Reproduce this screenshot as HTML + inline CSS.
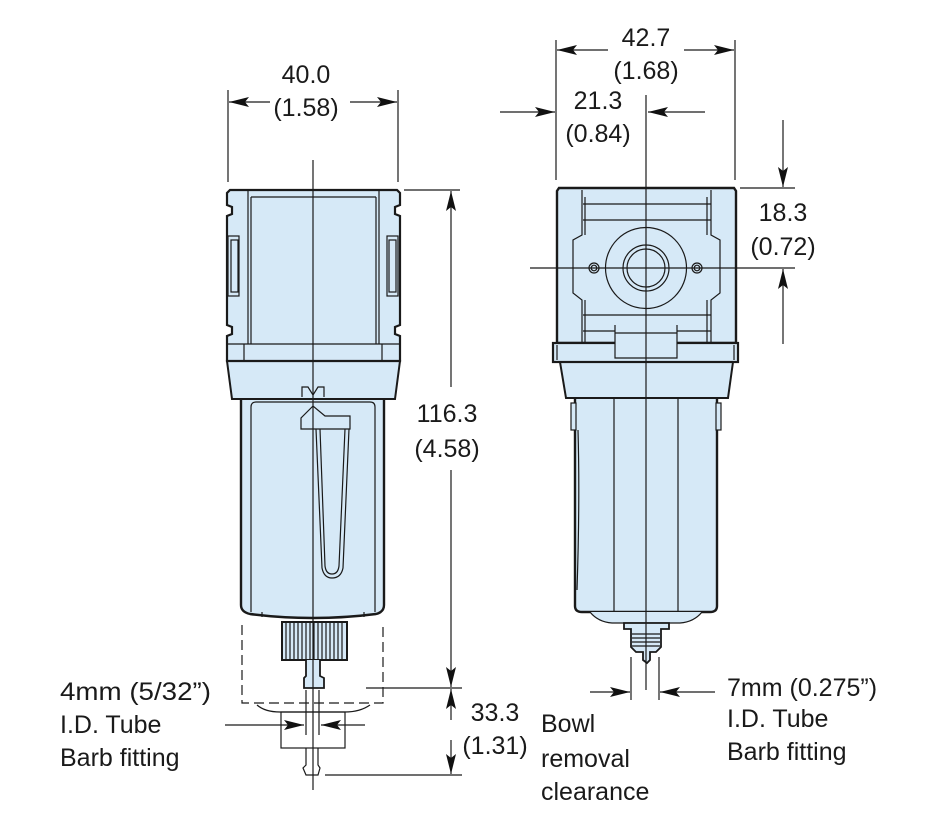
<!DOCTYPE html>
<html><head><meta charset="utf-8"><style>
html,body{margin:0;padding:0;background:#fff;}
svg{display:block}
text{font-family:"Liberation Sans",sans-serif;fill:#1a1a1a;}
</style></head><body>
<svg width="926" height="828" viewBox="0 0 926 828" xmlns="http://www.w3.org/2000/svg">
<defs>
<marker id="ah" viewBox="0 0 20 10" refX="20" refY="5" markerWidth="20" markerHeight="10" markerUnits="userSpaceOnUse" orient="auto"><path d="M0,0 L20,5 L0,10 L4,5 z" fill="#111"/></marker>
</defs>
<g stroke="#1a1a1a" fill="none" stroke-width="1.2">
<!-- ===== LEFT VIEW ===== -->
<!-- bowl -->
<path d="M241,399 L241,605 Q241,612 250,614 Q313,622 376,614 Q384,612 384,605 L384,399" fill="#d6e9f7" stroke-width="2.4"/>
<path d="M251,612 L251,407 Q251,402 256,402 L370,402 Q375,402 375,407 L375,612"/>
<path d="M262,617 L262,612 M364,617 L364,612"/>
<!-- collar -->
<path d="M227,361 L400,361 L395,399 L232,399 Z" fill="#d6e9f7" stroke-width="2"/>
<!-- head -->
<path d="M230,190 L397,190 L400,193 L400,205 L395,207 L395,214 L400,216 L400,325 L395,327 L395,334 L400,336 L400,361 L227,361 L227,336 L232,334 L232,327 L227,325 L227,216 L232,214 L232,207 L227,205 L227,193 Z" fill="#d6e9f7" stroke-width="2.2"/>
<path d="M248,190 L248,344 M251,197 L251,344 M376,197 L376,344 M379,190 L379,344 M251,197 L376,197"/>
<path d="M227,344 L400,344 M244,344 L244,361 M382,344 L382,361"/>
<rect x="228" y="236" width="11" height="60"/><rect x="231" y="240" width="7" height="52"/>
<rect x="387" y="236" width="11" height="60"/><rect x="389" y="240" width="7" height="52"/>
<!-- V mark -->
<path d="M302,397 L302,387 L308,387 L313,395 L318,387 L324,387 L324,397"/>
<!-- sight -->
<path d="M301,429 L301,418 L313,406 L325,416 L350,416 L350,429 Z" fill="#d6e9f7"/>
<path d="M316,429 L322,568 Q324,578 332,578 Q341,578 343,568 L349,429"/>
<path d="M320,429 L325,566 Q326,574 332,574 Q338,574 339,566 L345,429"/>
<!-- knurl -->
<rect x="282" y="622" width="65" height="38" fill="#d6e9f7" stroke-width="2"/>
<path d="M286,622v38M290,622v38M294,622v38M298,622v38M302,622v38M306,622v38M310,622v38M314,622v38M318,622v38M322,622v38M326,622v38M330,622v38M334,622v38M338,622v38M342,622v38"/>
<path d="M306,660 L306,676 L304,678 L304,688 L324,688 L324,678 L320,676 L320,660" fill="#d6e9f7" stroke-width="1.8"/>
<!-- dashed clearance -->
<path d="M242,625 L242,703 L383,703 L383,625" stroke-dasharray="10,5"/>
<path d="M257,705 Q265,712 280,712 L345,712 Q360,712 370,705"/>
<rect x="281" y="712" width="64" height="36"/>
<path d="M306,748 L306,765 L303,768 L306,775 L318,775 L320,768 L318,765 L318,748"/>
<path d="M306,690 V735 M319,690 V735"/>
<line x1="313" y1="160" x2="313" y2="790"/>
<!-- ===== RIGHT VIEW ===== -->
<!-- bowl -->
<path d="M575,399 L575,606 Q575,612 582,612 L710,612 Q717,612 717,606 L717,399" fill="#d6e9f7" stroke-width="2.4"/>
<path d="M614,399 V612 M678,399 V612"/>
<path d="M590,612 Q598,622 612,623 L680,623 Q694,622 702,612" fill="#d6e9f7"/>
<path d="M578,430 Q580,500 577,590"/>
<rect x="571" y="403" width="5" height="27" fill="#d6e9f7"/><rect x="716" y="403" width="5" height="27" fill="#d6e9f7"/>
<path d="M624,623 L669,623 L669,629 L661,629 L661,647 L656,652 L650,652 L650,660 L647,663 L643,660 L643,652 L636,652 L631,647 L631,629 L624,629 Z" fill="#d6e9f7" stroke-width="1.8"/>
<path d="M632,634h28M632,638h28M632,642h28M632,646h28"/>
<!-- collar -->
<path d="M560,362 L733,362 L728,398 L566,398 Z" fill="#d6e9f7" stroke-width="2"/>
<!-- head -->
<path d="M559,188 L734,188 L736,191 L736,343 L557,343 L557,191 Z" fill="#d6e9f7" stroke-width="2.4"/>
<rect x="553" y="343" width="185" height="19" fill="#d6e9f7" stroke-width="2.2"/>
<path d="M557,345 L557,360 M734,345 L734,360"/>
<path d="M582,190 L582,235 L573,240 L573,293 L582,300 L582,343"/>
<path d="M711,190 L711,235 L720,240 L720,293 L711,300 L711,343"/>
<path d="M585,197 L585,235 M707,197 L707,235 M585,300 L585,343 M707,300 L707,343"/>
<path d="M583,204 H711 M583,220 H711 M583,315 H711 M583,331 H711"/>
<path d="M615,325 L615,358 L677,358 L677,325 M615,333 H677" fill="#d6e9f7"/>
<circle cx="646" cy="268" r="40.5"/><circle cx="646" cy="268" r="23"/><circle cx="646" cy="268" r="19"/>
<circle cx="594" cy="268" r="5"/><circle cx="594" cy="268" r="2.8"/>
<circle cx="697" cy="268" r="5"/><circle cx="697" cy="268" r="2.8"/>
<line x1="646" y1="95" x2="646" y2="690"/>
<line x1="530" y1="268" x2="795" y2="268"/>
<path d="M631,657 V700 M659,657 V700"/>
<!-- ===== DIMENSIONS ===== -->
<path d="M228,90 V182 M398,90 V182"/>
<line x1="270" y1="102" x2="229" y2="102" marker-end="url(#ah)"/>
<line x1="350" y1="102" x2="397" y2="102" marker-end="url(#ah)"/>
<path d="M404,190 H460 M366,688 H462 M325,775 H462"/>
<line x1="451" y1="387" x2="451" y2="191" marker-end="url(#ah)"/>
<line x1="451" y1="470" x2="451" y2="687" marker-end="url(#ah)"/>
<line x1="451" y1="720" x2="451" y2="689" marker-end="url(#ah)"/>
<line x1="451" y1="740" x2="451" y2="774" marker-end="url(#ah)"/>
<line x1="225" y1="725" x2="304" y2="725" marker-end="url(#ah)"/>
<line x1="365" y1="725" x2="321" y2="725" marker-end="url(#ah)"/>
<path d="M556,40 V180 M735,40 V180"/>
<line x1="608" y1="50" x2="557" y2="50" marker-end="url(#ah)"/>
<line x1="684" y1="50" x2="734" y2="50" marker-end="url(#ah)"/>
<line x1="500" y1="112" x2="555" y2="112" marker-end="url(#ah)"/>
<line x1="705" y1="112" x2="648" y2="112" marker-end="url(#ah)"/>
<path d="M740,188 H795"/>
<line x1="783" y1="120" x2="783" y2="187" marker-end="url(#ah)"/>
<line x1="783" y1="344" x2="783" y2="269" marker-end="url(#ah)"/>
<line x1="590" y1="692" x2="630" y2="692" marker-end="url(#ah)"/>
<line x1="715" y1="692" x2="660" y2="692" marker-end="url(#ah)"/>
</g>
<g font-size="25">
<text x="306" y="83" text-anchor="middle">40.0</text>
<text x="306" y="116" text-anchor="middle">(1.58)</text>
<text x="646" y="46" text-anchor="middle">42.7</text>
<text x="646" y="79" text-anchor="middle">(1.68)</text>
<text x="598" y="109" text-anchor="middle">21.3</text>
<text x="598" y="142" text-anchor="middle">(0.84)</text>
<text x="783" y="221" text-anchor="middle">18.3</text>
<text x="783" y="255" text-anchor="middle">(0.72)</text>
<text x="447" y="422" text-anchor="middle">116.3</text>
<text x="447" y="457" text-anchor="middle">(4.58)</text>
<text x="495" y="721" text-anchor="middle">33.3</text>
<text x="495" y="754" text-anchor="middle">(1.31)</text>
<text x="60" y="700" textLength="151" lengthAdjust="spacingAndGlyphs">4mm (5/32”)</text>
<text x="60" y="733">I.D. Tube</text>
<text x="60" y="766">Barb fitting</text>
<text x="541" y="732">Bowl</text>
<text x="541" y="767">removal</text>
<text x="541" y="800">clearance</text>
<text x="727" y="696">7mm (0.275”)</text>
<text x="727" y="727">I.D. Tube</text>
<text x="727" y="760">Barb fitting</text>
</g>
</svg>
</body></html>
